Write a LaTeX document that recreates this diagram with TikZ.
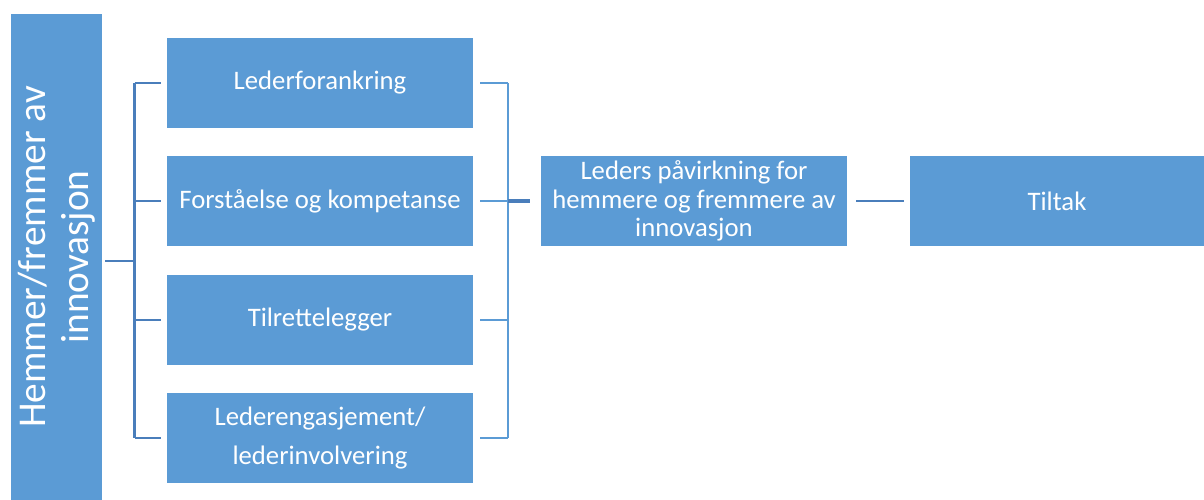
\documentclass[tikz,border=0pt]{standalone}
\usepackage{fontspec}
\setmainfont{Carlito}
\usetikzlibrary{positioning}

\definecolor{boxblue}{HTML}{5B9BD5}
\definecolor{linkdark}{HTML}{4A7EBB}

\tikzset{
    box/.style={fill=boxblue, text=white, inner sep=0pt, align=center,
        minimum width=306*0.02cm, minimum height=90*0.02cm, font=\fontsize{15.2}{17}\selectfont},
    leftlink/.style={draw=linkdark, line width=1.5pt},
    rightlink/.style={draw=boxblue, line width=1.6pt}
}

\begin{document}
\begin{tikzpicture}[x=0.02cm, y=-0.02cm]
    \useasboundingbox (0,0) rectangle (1204,500);

    % tall box on the left, text turned upright
    \node[fill=boxblue, text=white, inner sep=0pt, minimum width=486*0.02cm, minimum height=91*0.02cm,
        rotate=90, align=center, font=\fontsize{22.4}{24.5}\selectfont] (hemmer) at (56.5,257)
        {Hemmer/fremmer av\\innovasjon};

    % the four factors
    \node[box] (forankring) at (320, 83) {Lederforankring};
    \node[box] (forstaelse) at (320, 201) {Forståelse og kompetanse};
    \node[box] (tilrette) at (320, 320) {Tilrettelegger};
    \node[box, font=\fontsize{15.2}{22.7}\selectfont] (engasjement) at (320, 438) {Lederengasjement/\\lederinvolvering};

    \node[box, font=\fontsize{15.2}{16.2}\selectfont] (pavirkning) at (694, 201) {Leders påvirkning for\\hemmere og fremmere av\\innovasjon};
    \node[box, minimum width=294*0.02cm] (tiltak) at (1057, 201) {Tiltak};

    % bracket on the left
    \coordinate (lfork) at (134.5, 261);
    \draw[leftlink] (hemmer.south |- lfork) ++(3,0) -- (lfork);
    \draw[leftlink] (lfork |- forankring) -- (lfork |- engasjement);
    \foreach \n in {forankring, forstaelse, tilrette, engasjement}
        \draw[leftlink, shorten >=3] (lfork |- \n) -- (\n.west);

    % bracket on the right
    \coordinate (rfork) at (508, 201);
    \draw[rightlink] (rfork |- forankring) -- (rfork |- engasjement);
    \foreach \n in {forankring, forstaelse, tilrette, engasjement}
        \draw[rightlink, shorten <=4] (\n.east) -- (rfork |- \n);
    \draw[draw=linkdark, line width=2.4pt, shorten >=6] (rfork) -- (pavirkning.west);

    \draw[leftlink, shorten <=5, shorten >=3] (pavirkning.east) -- (tiltak.west);
\end{tikzpicture}
\end{document}
